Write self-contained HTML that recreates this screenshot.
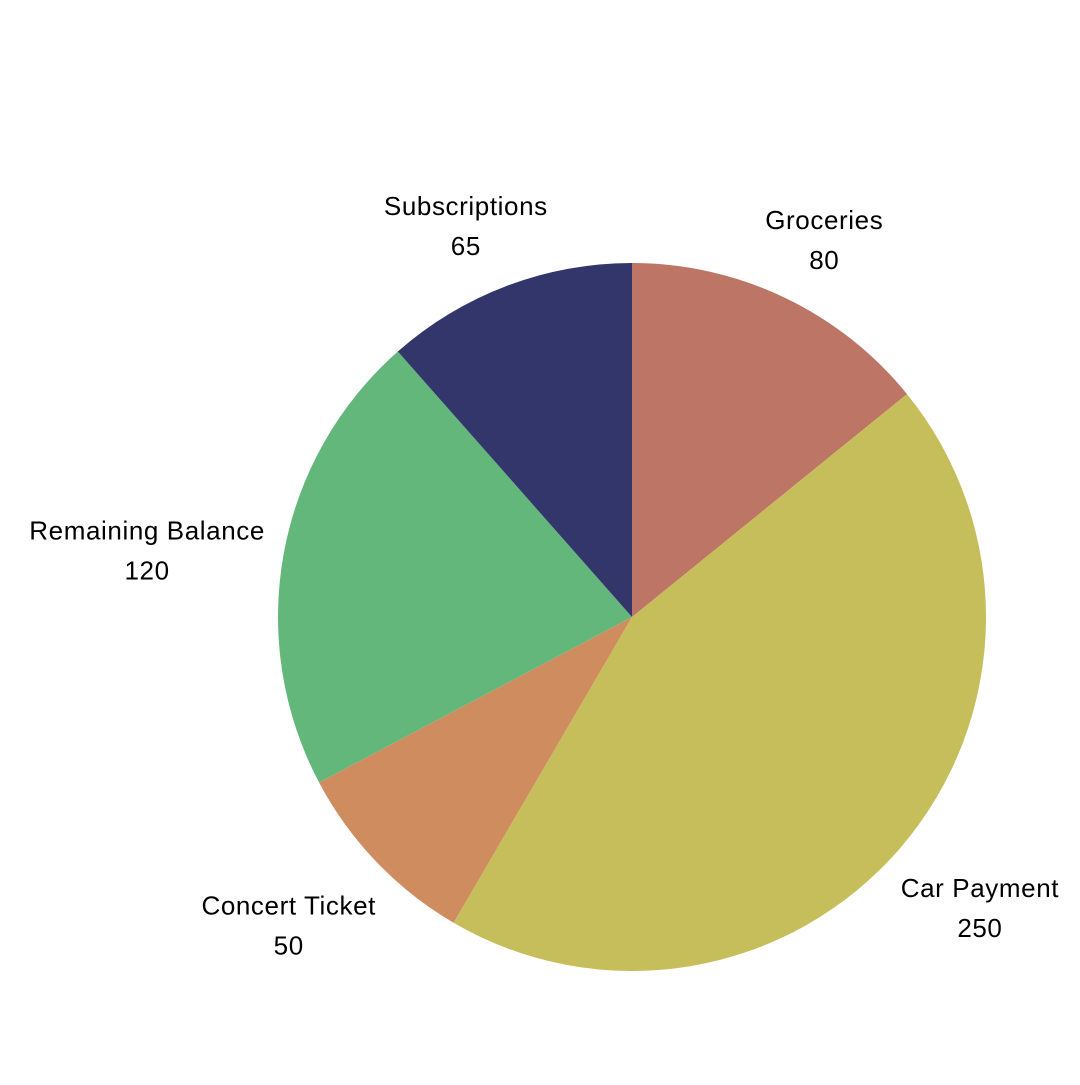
<!DOCTYPE html>
<html><head><meta charset="utf-8"><style>
body{margin:0;background:#fff;}
svg text{font-family:"Liberation Sans",sans-serif;font-size:26px;fill:#000;letter-spacing:0.6px;}
</style></head><body>
<svg id="chart" width="1080" height="1080"></svg>
<script>
const categories=["Groceries","Car Payment","Concert Ticket","Remaining Balance","Subscriptions"];
const values=[80,250,50,120,65];
const colors=["#bd7566","#c6be5a","#cf8c5f","#64b77b","#32366b"];
const svg=document.getElementById('chart');
const NS='http://www.w3.org/2000/svg';
const cx=632,cy=617,R=354;
const total=values.reduce((a,b)=>a+b,0);
function pt(a,r){return [cx+r*Math.sin(a),cy-r*Math.cos(a)];}
let start=0;
values.forEach((v,i)=>{
  const ang=v/total*2*Math.PI, end=start+ang;
  const [x1,y1]=pt(start,R),[x2,y2]=pt(end,R);
  const p=document.createElementNS(NS,'path');
  p.setAttribute('d',`M${cx},${cy}L${x1},${y1}A${R},${R} 0 ${ang>Math.PI?1:0} 1 ${x2},${y2}Z`);
  p.setAttribute('fill',colors[i]);
  
  
  svg.appendChild(p);
  const mid=start+ang/2;
  const hw=categories[i].length*7.2;
  let [lx,ly]=pt(mid,395);
  lx+=Math.sin(mid)*hw*0.8; ly-=Math.cos(mid)*35-8;
  const t=document.createElementNS(NS,'text');
  t.setAttribute('text-anchor','middle');
  
  
  const s1=document.createElementNS(NS,'tspan');
  s1.setAttribute('x',lx);s1.setAttribute('y',ly-8);s1.textContent=categories[i];
  const s2=document.createElementNS(NS,'tspan');
  s2.setAttribute('x',lx);s2.setAttribute('y',ly+32);s2.textContent=values[i];
  t.appendChild(s1);t.appendChild(s2);svg.appendChild(t);
  start=end;
});
</script>
</body></html>
